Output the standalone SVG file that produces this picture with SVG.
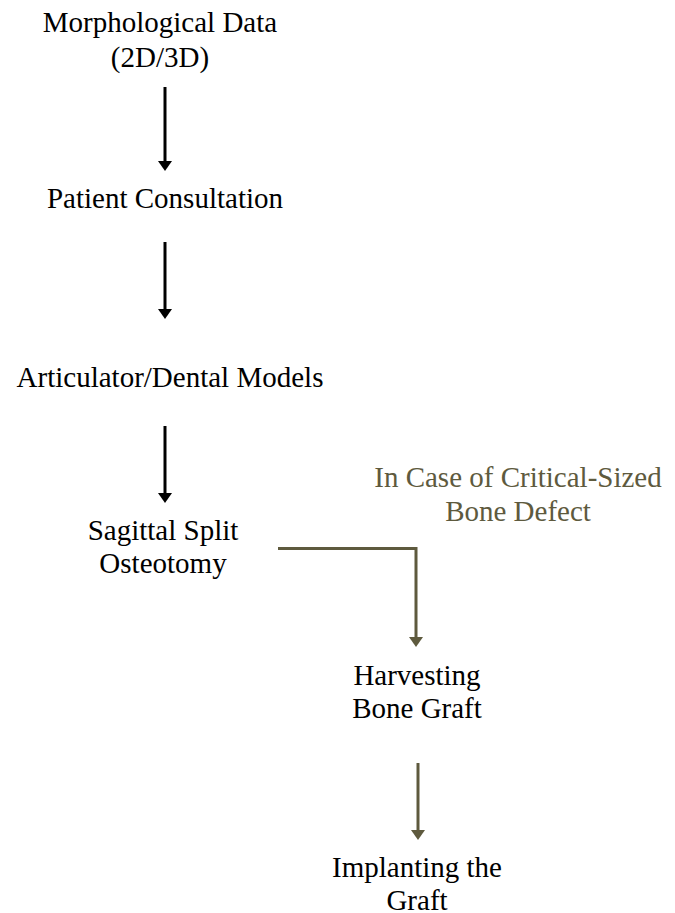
<svg xmlns="http://www.w3.org/2000/svg" width="675" height="913" viewBox="0 0 675 913">
<style>
.t{font-family:"Liberation Serif","Times New Roman",serif;font-size:29px;fill:#000;text-anchor:middle}
.b{fill:#5E5A3E}
.lk{stroke:#000;stroke-width:3;fill:none}
.lb{stroke:#5E5A3E;stroke-width:3;fill:none}
</style>
<rect width="675" height="913" fill="#fff"/>
<g id="connectors">
<line class="lk" x1="165" y1="87" x2="165" y2="162"/>
<polygon points="158,161 172,161 165,171" fill="#000"/>
<line class="lk" x1="165" y1="242" x2="165" y2="310"/>
<polygon points="158,309 172,309 165,319" fill="#000"/>
<line class="lk" x1="165" y1="426" x2="165" y2="494"/>
<polygon points="158,493 172,493 165,503" fill="#000"/>
<polyline class="lb" points="278,548.5 416,548.5 416,638"/>
<polygon class="b" points="409,637 423,637 416,647"/>
<line class="lb" x1="418" y1="763" x2="418" y2="831"/>
<polygon class="b" points="411,830 425,830 418,840"/>
</g>
<g id="morph"><text class="t" x="160" y="32">Morphological Data</text><text class="t" x="160" y="67">(2D/3D)</text></g>
<g id="patient"><text class="t" x="165" y="208">Patient Consultation</text></g>
<g id="articulator"><text class="t" x="170" y="387">Articulator/Dental Models</text></g>
<g id="sagittal"><text class="t" x="163" y="540">Sagittal Split</text><text class="t" x="163" y="573">Osteotomy</text></g>
<g id="condition"><text class="t b" x="518" y="487">In Case of Critical-Sized</text><text class="t b" x="518" y="521">Bone Defect</text></g>
<g id="harvest"><text class="t" x="417" y="685">Harvesting</text><text class="t" x="417" y="718">Bone Graft</text></g>
<g id="implant"><text class="t" x="417" y="877">Implanting the</text><text class="t" x="417" y="910">Graft</text></g>
</svg>
